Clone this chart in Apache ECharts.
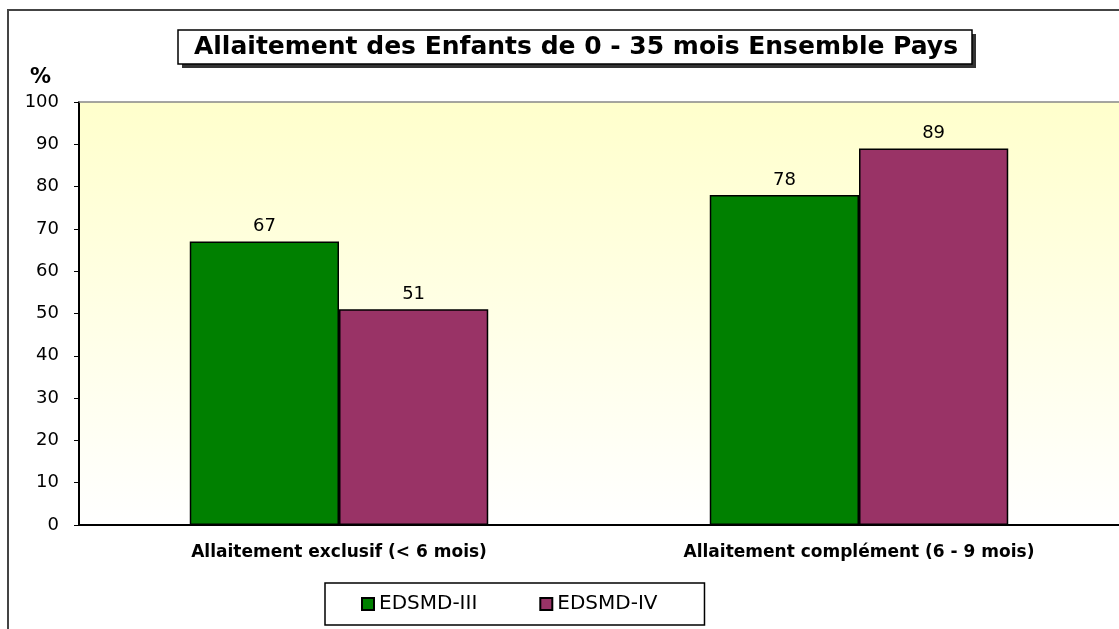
<!DOCTYPE html>
<html>
<head>
<meta charset="utf-8">
<script src="https://cdn.jsdelivr.net/npm/echarts@6/dist/echarts.min.js"></script>
<style>
  html, body { margin: 0; padding: 0; background: #fff; }
  #chart { width: 1119px; height: 629px; }
</style>
</head>
<body>
<div id="chart"></div>
<script>
// data
const categories = ["Allaitement exclusif (< 6 mois)", "Allaitement complément (6 - 9 mois)"];
const seriesNames = ["EDSMD-III", "EDSMD-IV"];
const edsmd3 = [67, 78];
const edsmd4 = [51, 89];

const chart = echarts.init(document.getElementById("chart"));
const font = "DejaVu Sans";

const options = {
  animation: false,
  title: {
    text: "Allaitement des Enfants de 0 - 35 mois Ensemble Pays",
    left: 576,
    top: 35,
    textAlign: "center",
    padding: 0,
    textStyle: { fontFamily: font, fontSize: 25, fontWeight: "bold", color: "#000" },
  },
  graphic: [
    // outer chart frame
    {
      type: "rect",
      z: -10,
      shape: { x: 8, y: 10, width: 1300, height: 900 },
      style: { fill: "none", stroke: "#444", lineWidth: 2 },
    },
    // title box shadow
    {
      type: "rect",
      z: -6,
      shape: { x: 182, y: 34, width: 794, height: 34 },
      style: { fill: "#333" },
    },
    // title box
    {
      type: "rect",
      z: -5,
      shape: { x: 178, y: 30, width: 794, height: 34 },
      style: { fill: "#fff", stroke: "#000", lineWidth: 1.5 },
    },
  ],
  legend: {
    data: seriesNames,
    left: 325,
    top: 583,
    padding: [11, 47, 11, 36],
    itemGap: 62,
    itemWidth: 12,
    itemHeight: 12,
    icon: "rect",
    backgroundColor: "#fff",
    borderColor: "#000",
    borderWidth: 1.5,
    textStyle: { fontFamily: font, fontSize: 20, color: "#000" },
  },
  grid: {
    left: 79,
    right: -6,
    top: 102,
    bottom: 104,
    show: true,
    borderWidth: 0,
    backgroundColor: {
      type: "linear", x: 0, y: 0, x2: 0, y2: 1,
      colorStops: [
        { offset: 0, color: "#FFFFCC" },
        { offset: 1, color: "#FFFFFF" },
      ],
    },
  },
  xAxis: [
    {
      type: "category",
      data: categories,
      axisLine: { lineStyle: { color: "#000", width: 2 } },
      axisTick: { length: 6, lineStyle: { color: "#000", width: 1 } },
      axisLabel: { fontFamily: font, fontSize: 17, fontWeight: "bold", color: "#000", margin: 19 },
    },
    {
      // gray top edge of the plot area
      type: "category",
      position: "top",
      data: categories,
      axisLine: { lineStyle: { color: "#888", width: 1.5 } },
      axisTick: { show: false },
      axisLabel: { show: false },
    },
  ],
  yAxis: {
    type: "value",
    min: 0,
    max: 100,
    interval: 10,
    name: "%",
    nameGap: 14,
    nameTextStyle: { fontFamily: font, fontSize: 21, fontWeight: "bold", color: "#000", align: "right", padding: [0, 28, 0, 0] },
    axisLine: { show: true, lineStyle: { color: "#000", width: 2 } },
    axisTick: { show: true, length: 5, lineStyle: { color: "#000", width: 1 } },
    axisLabel: { fontFamily: font, fontSize: 18, color: "#000", margin: 20 },
    splitLine: { show: false },
  },
  series: [
    {
      name: seriesNames[0],
      type: "bar",
      data: edsmd3,
      barGap: "0%",
      barCategoryGap: "42.6%",
      itemStyle: { color: "#008000", borderColor: "#000", borderWidth: 1.5 },
      label: { show: true, position: "top", distance: 6, fontFamily: font, fontSize: 18, color: "#000" },
    },
    {
      name: seriesNames[1],
      type: "bar",
      data: edsmd4,
      barGap: "0%",
      barCategoryGap: "42.6%",
      itemStyle: { color: "#993366", borderColor: "#000", borderWidth: 1.5 },
      label: { show: true, position: "top", distance: 6, fontFamily: font, fontSize: 18, color: "#000" },
    },
  ],
};

chart.setOption(options);
</script>
</body>
</html>
